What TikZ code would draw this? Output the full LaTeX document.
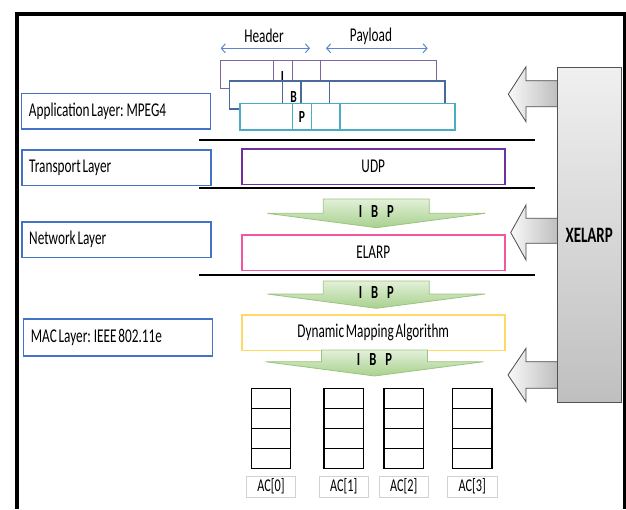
\documentclass[tikz,border=0pt]{standalone}
\usepackage{fontspec}
\setmainfont{Carlito}[FakeStretch=0.68, WordSpace=0.6]
\usetikzlibrary{arrows.meta}
\definecolor{lyblue}{HTML}{4472C4}
\definecolor{hdrblue}{HTML}{5B86D0}
\definecolor{pkpurple}{HTML}{8064A2}
\definecolor{pkblue}{HTML}{4A6A9B}
\definecolor{pkcyan}{HTML}{4BACC6}
\definecolor{udpc}{HTML}{7030A0}
\definecolor{elarpc}{HTML}{F2569E}
\definecolor{dmac}{HTML}{FFD966}
\definecolor{grtop}{HTML}{E2F0D9}
\definecolor{grbot}{HTML}{A9D18E}
\definecolor{grline}{HTML}{9CC47E}
\begin{document}
\begin{tikzpicture}[x=1pt,y=-1pt,
  txt/.style={font=\fontsize{19.5}{21}\selectfont, inner sep=0pt},
  layer/.style={draw=lyblue, line width=1.5pt, anchor=north west, inner sep=0pt,
    minimum width=189pt, minimum height=35.5pt},
  ltext/.style={font=\fontsize{19.5}{21}\selectfont, inner sep=0pt, anchor=west},
  midbox/.style={line width=1.5pt, anchor=north west, minimum width=263pt, minimum height=35.5pt,
    inner sep=0pt, font=\fontsize{19.5}{21}\selectfont},
  pkt/.style={line width=1.4pt, fill=white},
  sep/.style={line width=2pt, black},
  greenarr/.style={draw=grline, line width=0.8pt, top color=grtop, bottom color=grbot},
  grayarr/.style={draw=gray!60!black, line width=0.8pt, left color=gray!5, right color=gray!55},
  ibp/.style={font=\bfseries\fontsize{18.5}{20}\selectfont, inner sep=0pt},
  pktl/.style={font=\bfseries\fontsize{17}{19}\selectfont, inner sep=0pt},
  qcell/.style={draw, line width=1.4pt, minimum width=39.5pt, minimum height=20pt, inner sep=0pt},
  aclabel/.style={draw=gray!35, line width=0.8pt, minimum width=49.5pt, minimum height=21.3pt,
    inner sep=0pt, font=\fontsize{18}{20}\selectfont},
  hdrarr/.style={hdrblue, line width=1pt, {Straight Barb[length=4pt,width=9pt]}-{Straight Barb[length=4pt,width=9pt]}}
]
\useasboundingbox (0,0) rectangle (626,509);
% outer frame
\draw[line width=3.5pt] (17,509) -- (17,14) -- (624.5,14) -- (624.5,509);

% header / payload
\coordinate (h1) at (220.7,48.3);
\coordinate (h2) at (310,48.3);
\coordinate (p1) at (326,48.3);
\coordinate (p2) at (427.7,48.3);
\draw[hdrarr] (h1) -- (h2);
\draw[hdrarr] (p1) -- (p2);
\node[txt] (header) at (264,36) {Header};
\node[txt] (payload) at (371,36) {Payload};

% packets
\draw[pkt, draw=pkpurple] (220.7,60.7) rectangle (436.7,88.3);
\draw[pkpurple, line width=1.4pt] (273.3,60.7) -- (273.3,88.3) (292.3,60.7) -- (292.3,88.3) (320.7,60.7) -- (320.7,88.3);
\node[pktl] (pI) at (282.5,77) {I};
\draw[pkt, draw=pkblue] (229.3,81) rectangle (445,109);
\draw[pkblue, line width=1.4pt] (282.3,81) -- (282.3,109) (301,81) -- (301,109) (329.3,81) -- (329.3,109);
\node[pktl] (pB) at (293.5,96.7) {B};
\draw[pkt, draw=pkcyan] (240,103.3) rectangle (455,130);
\draw[pkcyan, line width=1.4pt] (292.3,103.3) -- (292.3,130) (311.7,103.3) -- (311.7,130) (340,103.3) -- (340,130);
\node[pktl] (pP) at (302,117.3) {P};

% layer separators
\draw[sep] (199,140) -- (535,140);
\draw[sep] (199,188) -- (535,188);
\draw[sep] (199,275) -- (535,275);

% left layer boxes
\node[layer] (app) at (20.7,92.7) {};
\node[ltext] (appt) at ([xshift=8pt]app.west) {Application Layer: MPEG4};
\node[layer] (trans) at (21,149.3) {};
\node[ltext] (transt) at ([xshift=8pt]trans.west) {Transport Layer};
\node[layer] (net) at (21,221) {};
\node[ltext] (nett) at ([xshift=8pt]net.west) {Network Layer};
\node[layer, minimum height=36.7pt] (mac) at (22.7,318.3) {};
\node[ltext] (mact) at ([xshift=8pt]mac.west) {MAC Layer: IEEE 802.11e};

% middle boxes
\node[midbox, draw=udpc] (udp) at (241,148.3) {UDP};
\node[midbox, draw=elarpc] (elarp) at (241,234) {ELARP};
\node[midbox, draw=dmac] (dma) at (241,314) {Dynamic Mapping Algorithm};

% green arrows
\foreach \cx/\top/\wing/\tip/\nm in {376.3/199/213.3/227.7/ga, 376.3/281/294/308.3/gb, 374.5/350/361.7/376/gc} {
  \draw[greenarr] (\cx-53,\top) -- (\cx+53,\top) -- (\cx+53,\wing) -- (\cx+109,\wing)
     -- (\cx,\tip) -- (\cx-109,\wing) -- (\cx-53,\wing) -- cycle;
  \node[ibp] (\nm) at (\cx,\wing-2) {I\hspace{9pt}B\hspace{9pt}P};
}

% gray arrows from XELARP
\foreach \top/\stop/\sbot/\bot/\tipx in {66.7/80.7/106.7/121.7/508.3, 205/218.3/243.3/260/510.7, 348.3/361.7/388.3/401.7/508} {
  \draw[grayarr] (562,\stop) -- (526,\stop) -- (526,\top) -- (\tipx,{(\top+\bot)/2})
     -- (526,\bot) -- (526,\sbot) -- (562,\sbot) -- cycle;
}

% XELARP box
\node[draw=gray!65!black, line width=1pt, top color=gray!12, bottom color=gray!50,
  anchor=north west, minimum width=64pt, minimum height=334.4pt, inner sep=0pt,
  font=\bfseries\fontsize{22}{24}\selectfont] (xel) at (556.7,67.3) {XELARP};

% queues
\foreach \cx/\i in {271/0, 343.7/1, 403.7/2, 472.2/3} {
  \foreach \j in {0,1,2,3} {
    \node[qcell] (q\i-\j) at (\cx,398.3+20*\j) {};
  }
  \node[aclabel] (ac\i) at (\cx,486.7) {AC[\i]};
}
\end{tikzpicture}
\end{document}
